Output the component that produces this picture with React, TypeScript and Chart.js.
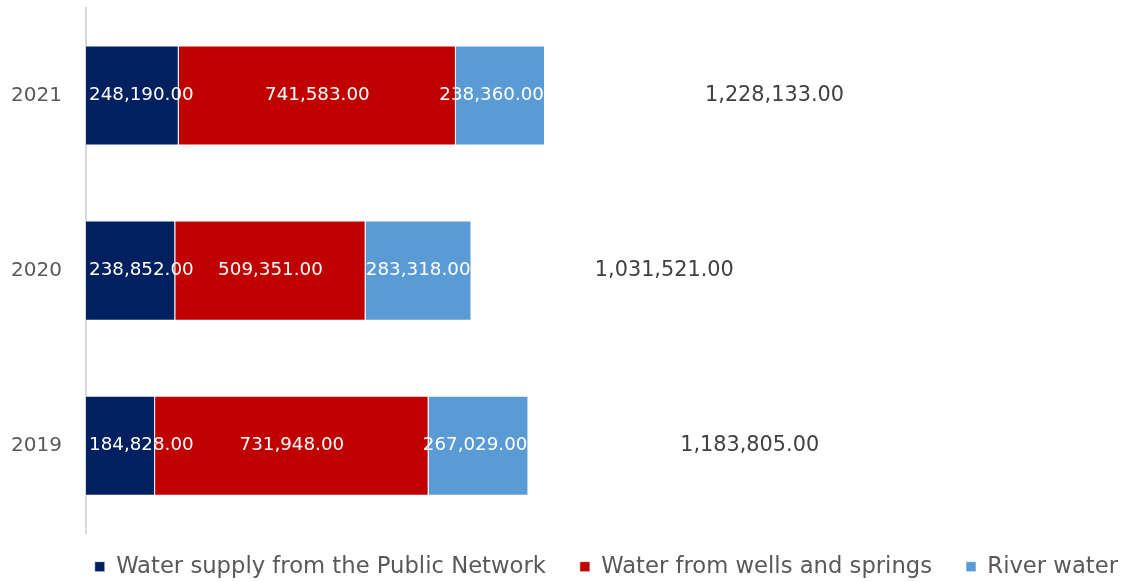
import React, { useEffect, useRef } from "react";
import { Chart, registerables } from "chart.js";

Chart.register(...registerables);

const categories = ["2021", "2020", "2019"];
const publicNetwork = [248190, 238852, 184828];
const wellsSprings = [741583, 509351, 731948];
const riverWater = [238360, 283318, 267029];
const totals = [1228133, 1031521, 1183805];
const seriesNames = [
  "Water supply from the Public Network",
  "Water from wells and springs",
  "River water",
  "Total",
];

const FONT = "'DejaVu Sans', sans-serif";
const LEGEND_PAD = 34;

const fmt = (v: number) =>
  v.toLocaleString("en-US", { minimumFractionDigits: 2, maximumFractionDigits: 2 });

const labelPlugin = {
  id: "barLabels",
  afterLayout(chart: any) {
    const lg = chart.legend;
    if (lg) {
      const dy = -12;
      const dx = 27;
      lg.top += dy;
      lg.bottom += dy;
      lg.left += dx;
      lg.right += dx;
    }
  },
  afterDatasetsDraw(chart: any) {
    const ctx = chart.ctx;
    const area = chart.chartArea;
    const lastMeta = chart.getDatasetMeta(2);
    ctx.save();
    ctx.textBaseline = "middle";
    ctx.textAlign = "left";
    chart.data.datasets.forEach((ds: any, di: number) => {
      const meta = chart.getDatasetMeta(di);
      const isTotal = di === 3;
      ctx.font = (isTotal ? "20.8px " : "18.3px ") + FONT;
      ctx.fillStyle = isTotal ? "#404040" : "#ffffff";
      meta.data.forEach((el: any, i: number) => {
        const v = ds.data[i];
        const txt = fmt(v);
        const w = ctx.measureText(txt).width;
        const cx = (el.x + el.base) / 2;
        let left = cx - w / 2;
        if (!isTotal) {
          const stackEnd = lastMeta.data[i].x;
          if (left + w > stackEnd - 1) left = stackEnd - 1 - w;
          if (left < area.left + 3) left = area.left + 3;
        }
        ctx.fillText(txt, left, el.y);
      });
    });
    ctx.restore();
  },
};

export default function App() {
  const ref = useRef<HTMLCanvasElement | null>(null);

  useEffect(() => {
    if (!ref.current) return;
    const border = { borderColor: "rgba(255,255,255,0.55)", borderWidth: 1 };
    const chart = new Chart(ref.current, {
      type: "bar",
      data: {
        labels: categories,
        datasets: [
          { label: seriesNames[0], data: publicNetwork, backgroundColor: "#002060", ...border },
          { label: seriesNames[1], data: wellsSprings, backgroundColor: "#C00000", ...border },
          { label: seriesNames[2], data: riverWater, backgroundColor: "#5B9BD5", ...border },
          { label: seriesNames[3], data: totals, backgroundColor: "rgba(0,0,0,0)", borderWidth: 0 },
        ],
      },
      options: {
        indexAxis: "y",
        animation: false,
        responsive: true,
        maintainAspectRatio: false,
        layout: { padding: { top: 8, left: 0, right: 0, bottom: -18 } },
        datasets: {
          bar: { categoryPercentage: 1, barPercentage: 100 / 175 },
        },
        scales: {
          x: {
            stacked: true,
            display: false,
            min: 0,
            max: 2780000,
          },
          y: {
            stacked: true,
            grid: { display: false, drawTicks: false },
            border: { display: true, color: "#d9d9d9", width: 2 },
            ticks: {
              color: "#595959",
              font: { family: FONT, size: 20 },
              padding: 24,
            },
            afterFit(scale: any) {
              scale.width = 86;
              scale.paddingTop = 0;
              scale.paddingBottom = 0;
            },
          },
        },
        plugins: {
          tooltip: { enabled: false },
          legend: {
            position: "bottom",
            align: "end",
            labels: {
              color: "#595959",
              font: { family: FONT, size: 22.7 },
              boxWidth: 10,
              boxHeight: 10,
              padding: LEGEND_PAD,
              filter: (item: any) => item.datasetIndex < 3,
            },
          },
        },
      },
      plugins: [labelPlugin],
    });
    return () => chart.destroy();
  }, []);

  return (
    <div style={{ position: "fixed", left: 0, top: 0, width: 1125, height: 582, background: "#fff" }}>
      <canvas ref={ref} />
    </div>
  );
}
